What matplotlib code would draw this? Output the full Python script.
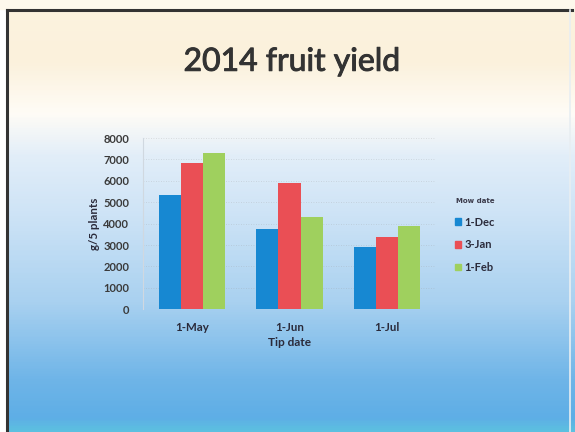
import numpy as np
import matplotlib
matplotlib.use("Agg")
import matplotlib.pyplot as plt
import matplotlib.patheffects as pe
from matplotlib.colors import LinearSegmentedColormap
from matplotlib.patches import Patch
from matplotlib.lines import Line2D

# data
tip_dates = ["1-May", "1-Jun", "1-Jul"]
sow_dates = ["1-Dec", "3-Jan", "1-Feb"]
yield_dec = [5350, 3730, 2900]
yield_jan = [6850, 5900, 3400]
yield_feb = [7320, 4300, 3880]
yticks = [0, 1000, 2000, 3000, 4000, 5000, 6000, 7000, 8000]

COLORS = ["#1788d2", "#ea4f55", "#9fd05e"]
FONT = "Lato"

fig = plt.figure(figsize=(5.75, 4.32), dpi=100)

# slide background: cream at top, fading to white, then to blue
bg = fig.add_axes([0, 0, 1, 1], zorder=0)
stops = [(0.00, "#fcf3df"), (0.14, "#fbf1dc"), (0.26, "#fffcf6"),
         (0.36, "#e2eef9"), (0.50, "#cde3f6"), (0.70, "#a9d1f0"),
         (0.88, "#6fb5e8"), (0.97, "#5eaee6"), (1.00, "#5cc0e0")]
cmap = LinearSegmentedColormap.from_list("slide", stops)
grad = np.linspace(0, 1, 432)[:, None]
bg.imshow(grad, aspect="auto", cmap=cmap, extent=[0, 1, 0, 1], origin="upper")
bg.set_xlim(0, 1)
bg.set_ylim(0, 1)
bg.axis("off")
# scanned-frame edges (dark top/left, white margin outside)
bg.add_patch(plt.Rectangle((0, 0), 0.009, 1, color="white", zorder=2))
bg.add_patch(plt.Rectangle((0, 0.98), 1, 0.02, color="#fdf8ec", zorder=2))
bg.add_line(Line2D([0.012, 0.012], [0, 0.978], color="#333333", lw=2.2, zorder=3))
bg.add_line(Line2D([0.012, 0.995], [0.978, 0.978], color="#333333", lw=2.2, zorder=3))
bg.add_line(Line2D([0.992, 0.992], [0, 0.978], color="#e8eef2", lw=1.2, zorder=3))

fig.text(0.508, 0.857, "2014 fruit yield", ha="center", va="center",
         fontsize=23, color="#333333", family=FONT,
         path_effects=[pe.withStroke(linewidth=0.7, foreground="#333333")])

ax = fig.add_axes([0.2487, 0.284, 0.5096, 0.3965], zorder=1)
ax.patch.set_alpha(0)

x = np.arange(len(tip_dates))
w = 0.227
for k, (vals, c) in enumerate(zip([yield_dec, yield_jan, yield_feb], COLORS)):
    ax.bar(x + (k - 1) * w, vals, width=w, color=c, label=sow_dates[k], zorder=2)

ax.set_xlim(-0.5, 2.5)
ax.set_ylim(0, 8000)
ax.set_yticks(yticks)
ax.set_yticklabels([str(v) for v in yticks], fontsize=8, fontweight="bold",
                   color="#3a3a3a", family=FONT)
ax.set_xticks(x)
ax.set_xticklabels(tip_dates, fontsize=8.3, fontweight="bold",
                   color="#2a2a3a", family=FONT)
ax.tick_params(axis="y", length=0, pad=10)
ax.tick_params(axis="x", length=0, pad=9)
ax.grid(axis="y", color="#9a9a9a", lw=0.6, ls=(0, (1, 2)), alpha=0.35, zorder=0)
for s in ["top", "right", "bottom"]:
    ax.spines[s].set_visible(False)
ax.spines["left"].set_color("#d0d8e0")
ax.spines["left"].set_linewidth(0.8)

ax.set_xlabel("Tip date", fontsize=8.6, fontweight="bold", color="#2a2a3a",
              family=FONT, labelpad=3)
ax.set_ylabel("g/5 plants", fontsize=8.3, fontweight="bold", color="#2a2a3a",
              family=FONT, labelpad=2)

handles = [Patch(color=c) for c in COLORS]
leg = ax.legend(handles, sow_dates, title="Mow date", loc="center left",
                bbox_to_anchor=(1.03, 0.43), frameon=False,
                title_fontsize=5, handlelength=0.55, handleheight=0.55,
                handletextpad=0.35, labelspacing=1.05,
                prop={"family": FONT, "weight": "bold", "size": 8})
leg.get_title().set_color("#3a3a4a")
leg.get_title().set_fontweight("bold")
leg._legend_box.sep = 9
for t in leg.get_texts():
    t.set_color("#2a2a3a")

fig.savefig("out.png", dpi=100)
